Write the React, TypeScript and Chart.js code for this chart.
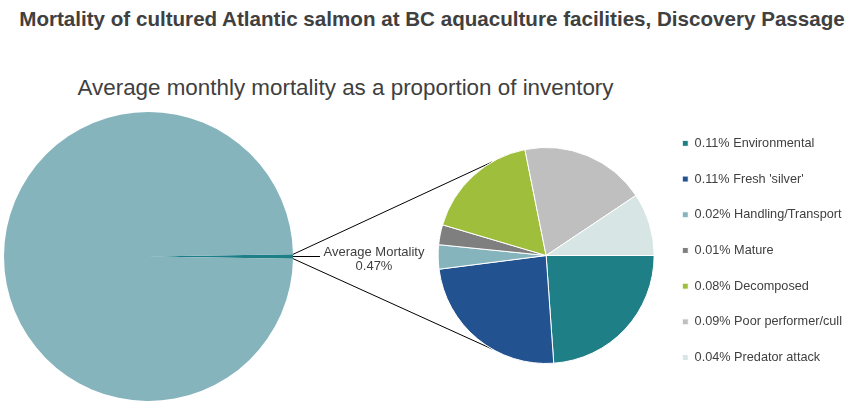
import { useEffect, useRef } from "react";
import Chart from "chart.js/auto";

// primary pie: whole inventory vs. monthly mortality (% of inventory)
const inventoryLabels = ["Average Mortality", "Remaining inventory"];
const inventoryValues = [0.47, 99.53];
const inventoryColors = ["#1f7f87", "#86b4bd"];

// secondary pie: breakdown of the mortality by cause (% of inventory)
const causes = [
  "Environmental",
  "Fresh 'silver'",
  "Handling/Transport",
  "Mature",
  "Decomposed",
  "Poor performer/cull",
  "Predator attack",
];
const causeValues = [0.112, 0.113, 0.017, 0.014, 0.081, 0.088, 0.044];
const causeColors = ["#1f7f87", "#22528f", "#86b4bd", "#7f7f7f", "#9fbe3b", "#bfbfbf", "#d7e6e4"];

const TITLE = "Mortality of cultured Atlantic salmon at BC aquaculture facilities, Discovery Passage";
const SUBTITLE = "Average monthly mortality as a proportion of inventory";

const FONT = "'Liberation Sans', Arial, sans-serif";
const TEXT = "#404040";
const W = 857;
const H = 408;

Chart.defaults.font.family = FONT;

// data label + leader line for the small slice of the primary pie
const mortalityLabel = {
  id: "mortalityLabel",
  afterDatasetsDraw(chart: Chart) {
    const arc: any = chart.getDatasetMeta(0).data[0];
    if (!arc) return;
    const mid = (arc.startAngle + arc.endAngle) / 2;
    const ex = arc.x + Math.cos(mid) * arc.outerRadius;
    const ey = arc.y + Math.sin(mid) * arc.outerRadius;
    const ctx = chart.ctx;
    ctx.save();
    ctx.strokeStyle = "#000";
    ctx.lineWidth = 1;
    ctx.beginPath();
    ctx.moveTo(ex, ey);
    ctx.lineTo(ex + 27, ey);
    ctx.stroke();
    ctx.fillStyle = TEXT;
    ctx.font = `13px ${FONT}`;
    ctx.textAlign = "center";
    ctx.textBaseline = "middle";
    ctx.fillText(inventoryLabels[0], ex + 81, ey - 4.5);
    ctx.fillText(`${inventoryValues[0].toFixed(2)}%`, ex + 81, ey + 9.5);
    ctx.restore();
  },
};

// lines joining the primary slice to the secondary pie
const makeConnectors = (getSource: () => Chart | null) => ({
  id: "connectors",
  beforeDatasetsDraw(chart: Chart) {
    const src = getSource();
    if (!src) return;
    const a: any = src.getDatasetMeta(0).data[0];
    const b: any = chart.getDatasetMeta(0).data[0];
    if (!a || !b) return;
    const ang = (2 * Math.PI) / 3;
    const ctx = chart.ctx;
    ctx.save();
    ctx.strokeStyle = "#000";
    ctx.lineWidth = 1;
    ctx.beginPath();
    ctx.moveTo(a.x + Math.cos(a.startAngle) * a.outerRadius, a.y + Math.sin(a.startAngle) * a.outerRadius);
    ctx.lineTo(b.x + Math.cos(-ang) * b.outerRadius, b.y + Math.sin(-ang) * b.outerRadius);
    ctx.moveTo(a.x + Math.cos(a.endAngle) * a.outerRadius, a.y + Math.sin(a.endAngle) * a.outerRadius);
    ctx.lineTo(b.x + Math.cos(ang) * b.outerRadius, b.y + Math.sin(ang) * b.outerRadius);
    ctx.stroke();
    ctx.restore();
  },
});

export default function App() {
  const leftRef = useRef<HTMLCanvasElement | null>(null);
  const rightRef = useRef<HTMLCanvasElement | null>(null);

  useEffect(() => {
    document.body.style.margin = "0";
    if (!leftRef.current || !rightRef.current) return;

    const total = inventoryValues.reduce((s, v) => s + v, 0);
    const sliceDeg = (inventoryValues[0] / total) * 360;

    const left = new Chart(leftRef.current, {
      type: "pie",
      data: {
        labels: inventoryLabels,
        datasets: [
          {
            data: inventoryValues,
            backgroundColor: inventoryColors,
            borderWidth: 0,
          },
        ],
      },
      options: {
        responsive: false,
        animation: false,
        rotation: 90 - sliceDeg / 2,
        layout: { padding: { left: 4, right: W - 293, top: 112, bottom: 7 } },
        plugins: {
          legend: { display: false },
          tooltip: { enabled: false },
        },
      },
      plugins: [mortalityLabel],
    });

    const right = new Chart(rightRef.current, {
      type: "pie",
      data: {
        labels: causes.map((c, i) => `${causeValues[i].toFixed(2)}% ${c}`),
        datasets: [
          {
            data: causeValues,
            backgroundColor: causeColors,
            borderColor: "#fff",
            borderWidth: 1,
            radius: 108,
          },
        ],
      },
      options: {
        responsive: false,
        animation: false,
        rotation: 90,
        layout: { padding: { left: 433, right: 5, top: 114, bottom: 11 } },
        plugins: {
          legend: {
            position: "right",
            align: "start",
            labels: {
              boxWidth: 6,
              boxHeight: 6,
              padding: 23,
              color: TEXT,
              font: { size: 12.7 },
            },
          },
          tooltip: { enabled: false },
        },
      },
      plugins: [makeConnectors(() => left)],
    });

    return () => {
      right.destroy();
      left.destroy();
    };
  }, []);

  return (
    <div style={{ position: "absolute", left: 0, top: 0, width: W, height: H, background: "#fff" }}>
      <div
        style={{
          position: "absolute",
          top: 9,
          left: 7,
          width: W - 7,
          textAlign: "center",
          font: `bold 20.6px ${FONT}`,
          lineHeight: "20px",
          color: TEXT,
          whiteSpace: "nowrap",
        }}
      >
        {TITLE}
      </div>
      <div
        style={{
          position: "absolute",
          top: 77,
          left: 0,
          width: 691,
          textAlign: "center",
          font: `22.4px ${FONT}`,
          lineHeight: "22px",
          color: TEXT,
          whiteSpace: "nowrap",
        }}
      >
        {SUBTITLE}
      </div>
      <canvas ref={leftRef} width={W} height={H} style={{ position: "absolute", left: 0, top: 0 }} />
      <canvas ref={rightRef} width={W} height={H} style={{ position: "absolute", left: 0, top: 0 }} />
    </div>
  );
}
